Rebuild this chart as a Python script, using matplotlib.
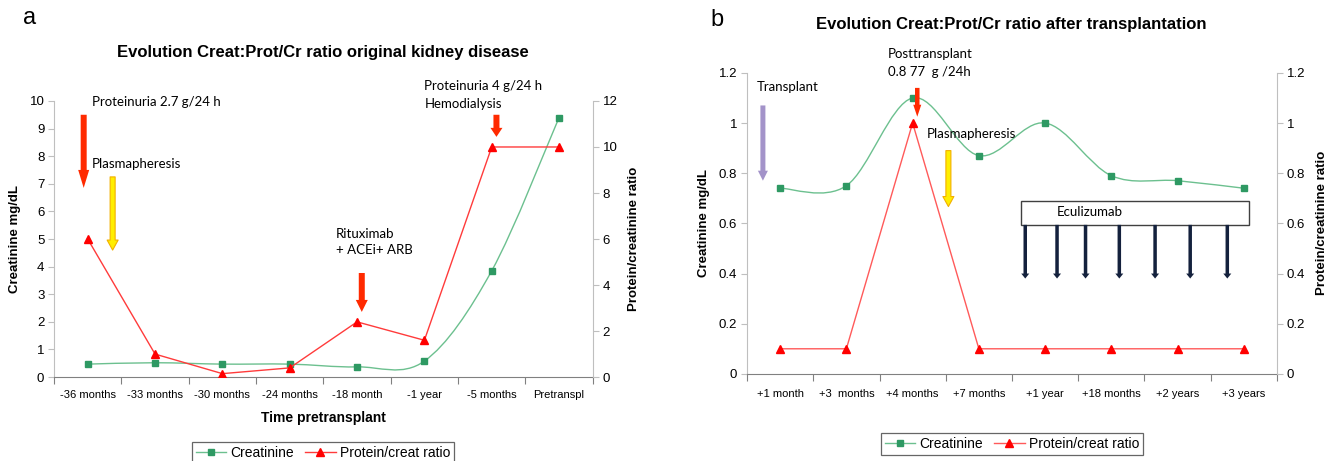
import matplotlib
matplotlib.use('Agg')
import matplotlib.pyplot as plt
import numpy as np
from matplotlib.path import Path
from matplotlib.patches import PathPatch, Rectangle
from matplotlib.lines import Line2D

plt.rcParams['font.family'] = ['Liberation Sans', 'DejaVu Sans']

# panel a: before transplantation
pre_labels = ['-36 months', '-33 months', '-30 months', '-24 months',
              '-18 month', '-1 year', '-5 months', 'Pretranspl']
pre_creat = [0.47, 0.52, 0.47, 0.47, 0.37, 0.58, 3.85, 9.4]
pre_ratio = [6.0, 1.0, 0.15, 0.4, 2.4, 1.6, 10.0, 10.0]

# panel b: after transplantation
post_labels = ['+1 month', '+3  months', '+4 months', '+7 months',
               '+1 year', '+18 months', '+2 years', '+3 years']
post_creat = [0.74, 0.75, 1.10, 0.87, 1.00, 0.79, 0.77, 0.74]
post_ratio = [0.1, 0.1, 1.0, 0.1, 0.1, 0.1, 0.1, 0.1]

GREEN_LINE = '#6cc08f'
GREEN_MARK = '#2e9963'
RED_MARK = '#ff0000'
ARROW_RED = '#ff2a00'
NOTE_FONT = ['Lato', 'DejaVu Sans']


def smooth_path(x, y):
    # excel-like smoothed line: bezier through the points
    pts = np.column_stack([np.asarray(x, float), np.asarray(y, float)])
    n = len(pts)
    verts = [pts[0]]
    codes = [Path.MOVETO]
    for i in range(n - 1):
        p0 = pts[i - 1] if i > 0 else pts[i]
        p1 = pts[i]
        p2 = pts[i + 1]
        p3 = pts[i + 2] if i + 2 < n else pts[i + 1]
        verts += [p1 + (p2 - p0) / 6, p2 - (p3 - p1) / 6, p2]
        codes += [Path.CURVE4] * 3
    return Path(verts, codes)


def block_arrow(ax, x, y0, y1, tail, head_w, head_len, fc, ec=None, lw=0.0):
    # sizes given in pixels, converted to points (dpi 100)
    k = 0.72
    style = 'simple,head_length=%g,head_width=%g,tail_width=%g' % (head_len * k, head_w * k, tail * k)
    ax.annotate('', xy=(x, y1), xytext=(x, y0), annotation_clip=False,
                arrowprops=dict(arrowstyle=style, mutation_scale=1, fc=fc,
                                ec=ec if ec else fc, lw=lw, shrinkA=0, shrinkB=0))


def setup_axes(ax, ax2, labels, xpad):
    n = len(labels)
    x = np.arange(n)
    ax.set_xlim(-0.5, n - 0.5)
    ax.set_xticks(np.arange(n + 1) - 0.5)
    ax.set_xticklabels([])
    ax.set_xticks(x, minor=True)
    ax.set_xticklabels(labels, minor=True, fontsize=8)
    ax.tick_params(axis='x', which='major', length=5, color='#808080')
    ax.tick_params(axis='x', which='minor', length=0, pad=xpad)
    ax.tick_params(axis='y', length=4, color='#bfbfbf', labelsize=9.5, pad=3)
    ax2.tick_params(axis='y', length=4, color='#bfbfbf', labelsize=9.5, pad=3)
    for s in ['top', 'right']:
        ax.spines[s].set_visible(False)
    for s in ['top', 'left', 'bottom']:
        ax2.spines[s].set_visible(False)
    ax.spines['left'].set_color('#bfbfbf')
    ax.spines['bottom'].set_color('#808080')
    ax2.spines['right'].set_color('#bfbfbf')
    ax.set_ylabel('Creatinine mg/dL', fontsize=9.5, fontweight='bold', labelpad=6)
    ax2.set_ylabel('Protein/creatinine ratio', fontsize=9.5, fontweight='bold', labelpad=8)


def draw_series(ax, ax2, creat, ratio, red_line):
    x = np.arange(len(creat))
    ax.add_patch(PathPatch(smooth_path(x, creat), fill=False, ec=GREEN_LINE, lw=1.0))
    ax.plot(x, creat, ls='none', marker='s', ms=4.5, color=GREEN_MARK)
    ax2.plot(x, ratio, color=red_line, lw=1.0, marker='^', ms=5.5,
             mfc=RED_MARK, mec=RED_MARK)


fig = plt.figure(figsize=(13.38, 4.61), dpi=100)

# ---------------- panel a ----------------
axa = fig.add_axes([0.0404, 0.182, 0.4026, 0.599])
axa2 = axa.twinx()
draw_series(axa, axa2, pre_creat, pre_ratio, '#ff3b3b')
axa.set_ylim(0, 10)
axa.set_yticks(range(0, 11))
axa2.set_ylim(0, 12)
axa2.set_yticks(range(0, 13, 2))
setup_axes(axa, axa2, pre_labels, 9)
axa.set_xlabel('Time pretransplant', fontsize=10, fontweight='bold', labelpad=8)

axa.text(0.07, 9.95, 'Proteinuria 2.7 g/24 h', fontsize=9.5, family=NOTE_FONT, va='center')
axa.text(0.06, 7.7, 'Plasmapheresis', fontsize=9.5, family=NOTE_FONT, va='center')
axa.text(3.69, 5.2, 'Rituximab', fontsize=9.5, family=NOTE_FONT, va='center')
axa.text(3.69, 4.6, '+ ACEi+ ARB', fontsize=9.5, family=NOTE_FONT, va='center')
axa.text(5.0, 10.55, 'Proteinuria 4 g/24 h', fontsize=9.5, family=NOTE_FONT, va='center', clip_on=False)
axa.text(5.0, 9.9, 'Hemodialysis', fontsize=9.5, family=NOTE_FONT, va='center')

block_arrow(axa, -0.06, 9.5, 6.85, 6, 11, 18, ARROW_RED)
block_arrow(axa, 0.37, 7.25, 4.6, 5, 11, 10, '#ffee00', '#f2b000', 0.8)
block_arrow(axa, 4.07, 3.77, 2.36, 6, 12, 12, ARROW_RED)
block_arrow(axa, 6.07, 9.5, 8.7, 6, 12, 9, ARROW_RED)

fig.text(323 / 1338, 1 - 53 / 461, 'Evolution Creat:Prot/Cr ratio original kidney disease',
         ha='center', va='center', fontsize=12, fontweight='bold')
fig.text(30 / 1338, 1 - 18 / 461, 'a', ha='center', va='center', fontsize=17)

# ---------------- panel b ----------------
axb = fig.add_axes([0.5583, 0.189, 0.3961, 0.653])
axb2 = axb.twinx()
draw_series(axb, axb2, post_creat, post_ratio, '#ff5a5a')
for a in (axb, axb2):
    a.set_ylim(0, 1.2)
    a.set_yticks(np.arange(0, 1.21, 0.2))
    a.set_yticklabels(['0', '0.2', '0.4', '0.6', '0.8', '1', '1.2'])
setup_axes(axb, axb2, post_labels, 11)

axb.text(-0.36, 1.145, 'Transplant', fontsize=9.5, family=NOTE_FONT, va='center')
axb.text(1.63, 1.275, 'Posttransplant', fontsize=9.5, family=NOTE_FONT, va='center', clip_on=False)
axb.text(1.63, 1.204, '0.8 77  g /24h', fontsize=9.5, family=NOTE_FONT, va='center', clip_on=False)
axb.text(2.22, 0.956, 'Plasmapheresis', fontsize=9.5, family=NOTE_FONT, va='center')

block_arrow(axb, -0.26, 1.07, 0.77, 5, 10, 10, '#a393c9')
block_arrow(axb, 2.07, 1.14, 1.025, 4.5, 8, 12, ARROW_RED)
block_arrow(axb, 2.54, 0.89, 0.667, 5, 11, 10, '#ffee00', '#f2b000', 0.8)

axb.add_patch(Rectangle((3.64, 0.595), 3.43, 0.095, fc='white', ec='#404040', lw=1.0, zorder=3))
axb.text(4.17, 0.645, 'Eculizumab', fontsize=9.5, family=NOTE_FONT, va='center', zorder=4)
for xd in [3.70, 4.18, 4.61, 5.12, 5.66, 6.19, 6.75]:
    block_arrow(axb, xd, 0.594, 0.38, 3.5, 8, 5, '#14213d')

fig.text(1011 / 1338, 1 - 25 / 461, 'Evolution Creat:Prot/Cr ratio after transplantation',
         ha='center', va='center', fontsize=12, fontweight='bold')
fig.text(717 / 1338, 1 - 20 / 461, 'b', ha='center', va='center', fontsize=17)


# legends
def legend_handles(red_line):
    return [Line2D([], [], color=GREEN_LINE, marker='s', ms=4.5, mfc=GREEN_MARK, mec=GREEN_MARK, lw=1.0),
            Line2D([], [], color=red_line, marker='^', ms=5.5, mfc=RED_MARK, mec=RED_MARK, lw=1.0)]


for cx, top, red_line in [(323, 442, '#ff3b3b'), (1012, 433, '#ff5a5a')]:
    leg = fig.legend(legend_handles(red_line), ['Creatinine', 'Protein/creat ratio'],
                     loc='upper center', bbox_to_anchor=(cx / 1338, 1 - top / 461),
                     ncol=2, fontsize=10, frameon=True, fancybox=False,
                     edgecolor='#404040', handlelength=2.2, handletextpad=0.3,
                     columnspacing=0.8, borderpad=0.3, borderaxespad=0)
    leg.get_frame().set_linewidth(0.9)

fig.savefig('out.png', dpi=100)
